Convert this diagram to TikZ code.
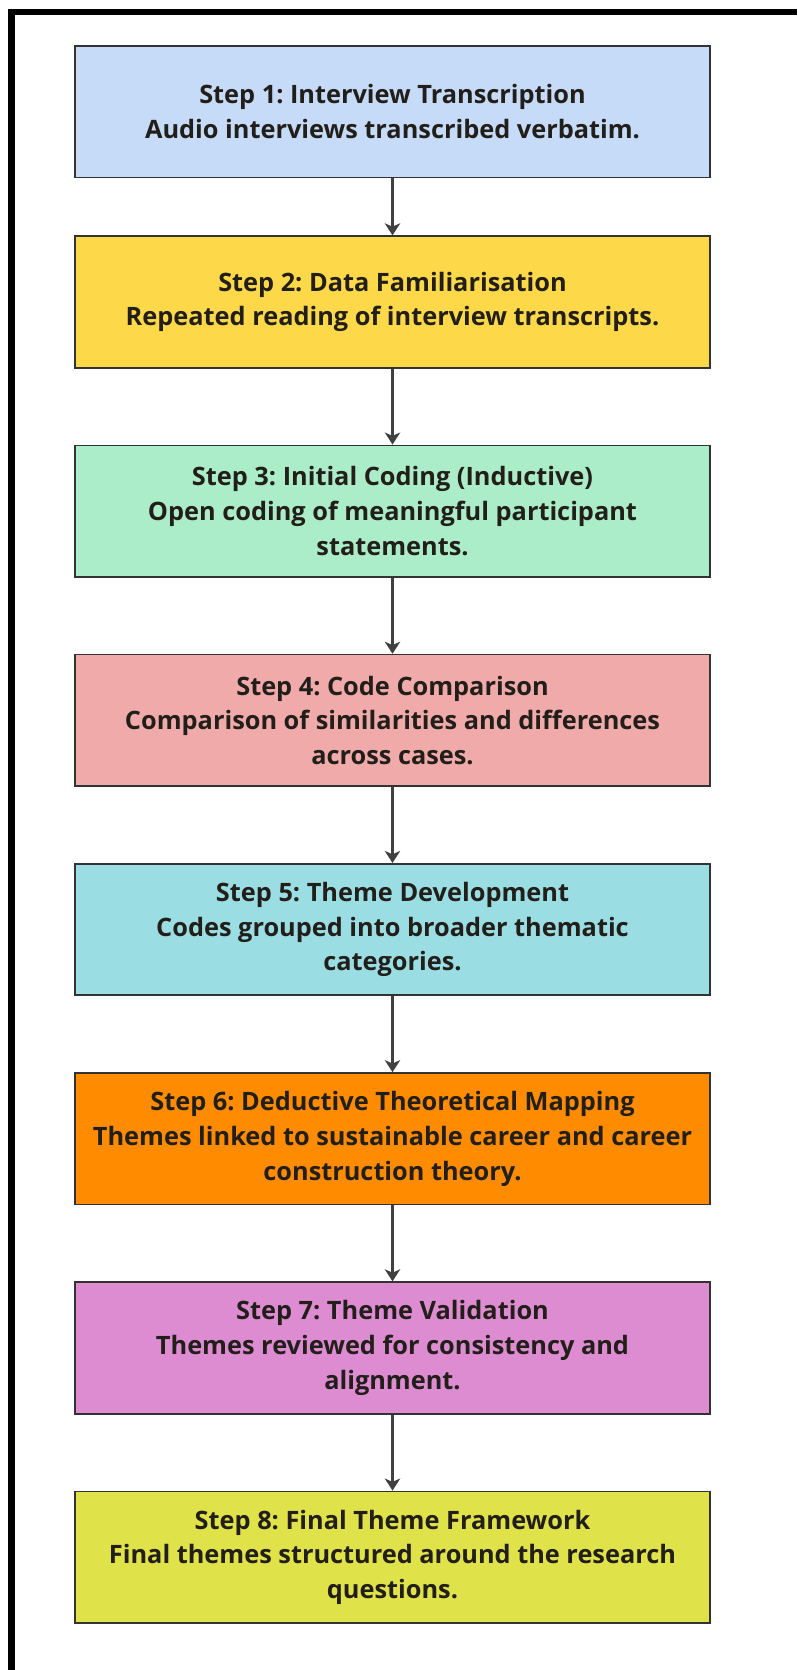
\documentclass[tikz,border=0pt]{standalone}
\usepackage{fontspec}
\setmainfont{Open Sans}
\frenchspacing
\usetikzlibrary{positioning,arrows.meta}

% Box colours
\definecolor{fillone}{RGB}{197,219,248}
\definecolor{filltwo}{RGB}{253,216,72}
\definecolor{fillthree}{RGB}{171,237,200}
\definecolor{fillfour}{RGB}{240,170,170}
\definecolor{fillfive}{RGB}{154,222,228}
\definecolor{fillsix}{RGB}{255,140,0}
\definecolor{fillseven}{RGB}{222,140,210}
\definecolor{filleight}{RGB}{224,226,74}
\definecolor{boxline}{RGB}{51,51,51}
\definecolor{textdark}{RGB}{34,30,26}
\definecolor{arrowgrey}{RGB}{64,64,64}

\begin{document}
\begin{tikzpicture}[x=0.75pt, y=-0.75pt,
  >={Stealth[length=9pt,width=11.5pt,inset=2.5pt]},
  stepbox/.style={draw=boxline, line width=1.3pt, minimum width=476pt,
    minimum height=98.6pt, inner sep=0pt, align=center, text=textdark,
    font=\bfseries\fontsize{19}{26}\selectfont},
  flow/.style={->, draw=arrowgrey, fill=arrowgrey, line width=1.6pt}]

  % Parameters
  \def\gapfirst{42.75pt}  % gap step 1 -> step 2
  \def\gap{57pt}          % gap between the other steps

  % Page and frame (cut off at right and bottom)
  \useasboundingbox (0,0) rectangle (797,1670);
  \fill[white] (0,0) rectangle (797,1670);
  \draw[line width=5pt] (797,12) -- (11.5,12) -- (11.5,1670);

  % Steps
  \node[stepbox, fill=fillone] (s1) at (392.5,111.75)
    {Step 1: Interview Transcription\\Audio interviews transcribed verbatim.};
  \node[stepbox, fill=filltwo, below=\gapfirst of s1] (s2)
    {Step 2: Data Familiarisation\\Repeated reading of interview transcripts.};
  \node[stepbox, fill=fillthree, below=\gap of s2] (s3)
    {Step 3: Initial Coding (Inductive)\\Open coding of meaningful participant\\statements.};
  \node[stepbox, fill=fillfour, below=\gap of s3] (s4)
    {Step 4: Code Comparison\\Comparison of similarities and differences\\across cases.};
  \node[stepbox, fill=fillfive, below=\gap of s4] (s5)
    {Step 5: Theme Development\\Codes grouped into broader thematic\\categories.};
  \node[stepbox, fill=fillsix, below=\gap of s5] (s6)
    {Step 6: Deductive Theoretical Mapping\\Themes linked to sustainable career and career\\construction theory.};
  \node[stepbox, fill=fillseven, below=\gap of s6] (s7)
    {Step 7: Theme Validation\\Themes reviewed for consistency and\\alignment.};
  \node[stepbox, fill=filleight, below=\gap of s7] (s8)
    {Step 8: Final Theme Framework\\Final themes structured around the research\\questions.};

  % Arrows
  \draw[flow] (s1) -- (s2);
  \draw[flow] (s2) -- (s3);
  \draw[flow] (s3) -- (s4);
  \draw[flow] (s4) -- (s5);
  \draw[flow] (s5) -- (s6);
  \draw[flow] (s6) -- (s7);
  \draw[flow] (s7) -- (s8);

\end{tikzpicture}
\end{document}
